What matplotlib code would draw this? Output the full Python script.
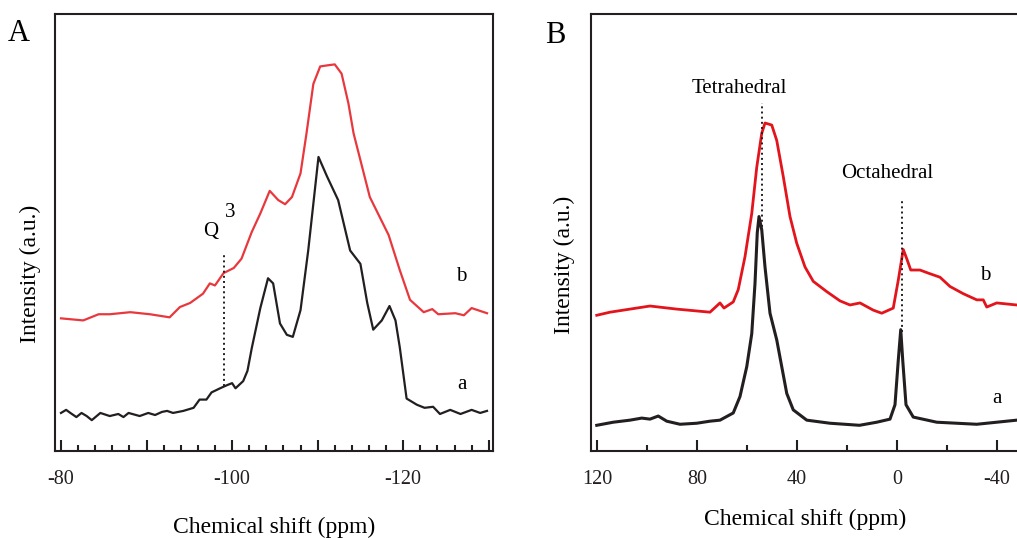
import matplotlib.pyplot as plt
from matplotlib.ticker import MultipleLocator

plt.rcParams['font.family'] = ['Liberation Serif', 'DejaVu Serif']
plt.rcParams['axes.unicode_minus'] = False

# panel A, 29Si spectra (ppm, intensity a.u.)
si_a_ppm = [-80.0, -80.6, -81.1, -81.8, -82.4, -83.0, -83.6, -84.6, -85.7, -86.7,
            -87.3, -87.9, -89.2, -90.2, -91.0, -91.8, -92.4, -93.1, -94.3, -95.5,
            -96.2, -97.0, -97.6, -98.6, -99.4, -100.0, -100.4, -101.3, -101.8,
            -102.3, -103.3, -104.2, -104.8, -105.6, -106.4, -107.1, -108.0, -108.9,
            -110.1, -111.1, -112.4, -113.8, -115.0, -115.8, -116.5, -117.5, -118.4,
            -119.1, -119.6, -120.4, -121.6, -122.5, -123.5, -124.3, -125.5, -126.7,
            -128.0, -129.0, -129.8]
si_a_int = [37, 40, 37, 33, 37, 34, 30, 37, 34, 36,
            33, 37, 34, 37, 35, 38, 39, 37, 39, 42,
            50, 50, 57, 61, 64, 66, 61, 68, 78,
            100, 139, 168, 163, 124, 113, 111, 137, 195,
            286, 267, 244, 195, 182, 144, 118, 127, 141,
            127, 101, 51, 45, 42, 43, 36, 40, 36,
            40, 37, 39]

si_b_ppm = [-80.0, -82.6, -84.4, -85.7, -88.1, -90.4, -92.7, -93.9, -95.1, -96.6,
            -97.4, -98.0, -99.0, -100.2, -101.1, -102.3, -103.3, -104.4, -105.4,
            -106.2, -107.0, -108.0, -108.7, -109.5, -110.3, -111.1, -112.0, -112.8,
            -113.6, -114.2, -116.1, -118.3, -119.6, -120.8, -122.4, -123.4, -124.1,
            -126.1, -127.1, -128.0, -129.8]
si_b_int = [129, 127, 133, 133, 135, 133, 130, 140, 144, 153,
            163, 161, 173, 178, 187, 213, 231, 253, 244,
            240, 247, 270, 309, 357, 374, 375, 376, 367,
            338, 309, 247, 210, 176, 147, 135, 138, 133,
            134, 132, 139, 134]

# panel B, 27Al spectra
al_a_ppm = [120.1, 113.5, 106.8, 102.1, 98.8, 95.5, 92.1, 86.8, 80.1, 74.8,
            70.8, 65.5, 62.8, 60.1, 58.1, 56.8, 55.9, 55.2, 54.1, 52.8,
            50.8, 48.1, 46.1, 44.1, 41.5, 36.1, 26.8, 15.0, 8.1, 2.8,
            0.8, -0.5, -1.5, -2.3, -3.6, -6.5, -15.9, -31.9, -47.9]
al_a_int = [25, 28, 30, 32, 31, 34, 29, 26, 27, 29,
            30, 37, 53, 82, 114, 163, 212, 228, 215, 179,
            134, 108, 82, 56, 40, 30, 27, 25, 28, 31,
            45, 88, 118, 88, 45, 33, 28, 26, 30]

al_b_ppm = [120.1, 114.8, 98.8, 88.1, 74.8, 70.8, 69.2, 65.5, 63.5, 60.8,
            58.1, 56.1, 54.1, 52.8, 50.1, 48.1, 45.5, 42.8, 40.1, 36.8,
            33.5, 28.1, 22.8, 18.8, 14.8, 9.5, 6.1, 1.5, -0.5, -2.5,
            -3.9, -5.5, -9.2, -12.5, -17.2, -21.2, -26.5, -31.9, -34.5, -35.9,
            -39.9, -47.9]
al_b_int = [132, 135, 141, 138, 135, 144, 139, 145, 157, 189,
            231, 276, 309, 319, 317, 302, 267, 228, 202, 179,
            165, 155, 146, 142, 144, 137, 134, 139, 166, 196,
            187, 176, 176, 173, 169, 160, 153, 147, 147, 140,
            144, 142]

black = '#231f20'
red_a = '#e8383d'
red_b = '#e3141b'

fig = plt.figure(figsize=(10.17, 5.38), dpi=100)
axA = fig.add_axes([55 / 1017, 87 / 538, 438 / 1017, 437 / 538])
axB = fig.add_axes([591 / 1017, 87 / 538, 428.5 / 1017, 437 / 538])

for ax in (axA, axB):
    for sp in ax.spines.values():
        sp.set_linewidth(1.5)
        sp.set_color(black)
    ax.set_yticks([])
    ax.set_ylim(0, 425)
    ax.tick_params(axis='x', which='major', direction='in', length=8, width=1.5,
                   labelsize=14.5, pad=14, colors=black)
    ax.tick_params(axis='x', which='minor', direction='in', length=4, width=1.5,
                   colors=black)
    ax.set_ylabel('Intensity (a.u.)', fontsize=17)

# panel A
axA.plot(si_a_ppm, si_a_int, color=black, lw=1.6, solid_joinstyle='round')
axA.plot(si_b_ppm, si_b_int, color=red_a, lw=1.6, solid_joinstyle='round')
axA.set_xlim(-79.3, -130.5)
axA.set_xticks([-80, -90, -100, -110, -120, -130])
axA.set_xticklabels(['-80', '', '-100', '', '-120', ''])
axA.xaxis.set_minor_locator(MultipleLocator(2))
axA.set_xlabel('Chemical shift (ppm)', fontsize=17, labelpad=20)
axA.yaxis.set_label_coords(-0.032, 0.405)
axA.plot([-99.0, -99.0], [63, 192], color=black, lw=1.4, ls=':')
axA.text(-97.5, 213, 'Q', fontsize=15, ha='center', va='center')
axA.text(-99.8, 232, '3', fontsize=15, ha='center', va='center')
axA.text(-126.8, 170, 'b', fontsize=15, ha='center', va='center')
axA.text(-126.9, 65, 'a', fontsize=15, ha='center', va='center')

# panel B
axB.plot(al_a_ppm, al_a_int, color=black, lw=2.2, solid_joinstyle='round')
axB.plot(al_b_ppm, al_b_int, color=red_b, lw=2.0, solid_joinstyle='round')
axB.set_xlim(122.4, -49)
axB.set_xticks([120, 80, 40, 0, -40])
axB.xaxis.set_minor_locator(MultipleLocator(20))
axB.set_xlabel('Chemical shift (ppm)', fontsize=17, labelpad=14)
axB.yaxis.set_label_coords(-0.037, 0.426)
axB.plot([53.9, 53.9], [213, 338], color=black, lw=1.4, ls=':')
axB.plot([-1.9, -1.9], [116, 243], color=black, lw=1.4, ls=':')
axB.text(63.1, 353, 'Tetrahedral', fontsize=15, ha='center', va='center')
axB.text(4.1, 270, 'Octahedral', fontsize=15, ha='center', va='center')
axB.text(-35.2, 171, 'b', fontsize=15, ha='center', va='center')
axB.text(-39.9, 51, 'a', fontsize=15, ha='center', va='center')

fig.text(8 / 1017, 1 - 41 / 538, 'A', fontsize=22, va='baseline')
fig.text(545 / 1017, 1 - 43 / 538, 'B', fontsize=22, va='baseline')

fig.savefig('out.png', dpi=100)
